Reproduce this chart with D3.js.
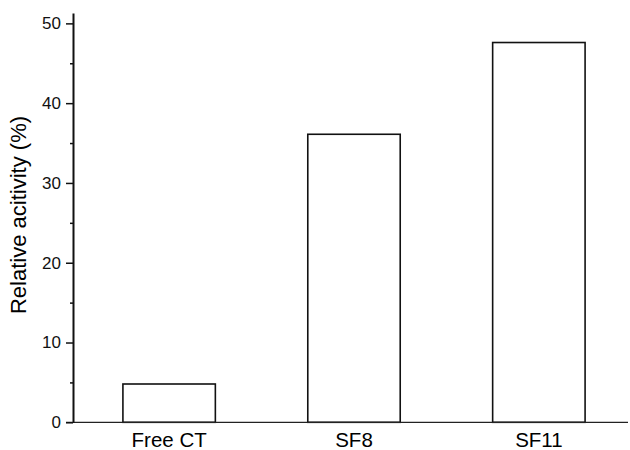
<!DOCTYPE html>
<html lang="en">
<head>
<meta charset="UTF-8">
<title>Relative activity</title>
<script src="https://cdn.jsdelivr.net/npm/d3@7"></script>
<style>
    body { margin: 0; background: #fff; }
    svg { display: block; font-family: "Liberation Sans", Arial, sans-serif; }
</style>
</head>
<body>
<script>
    // DATA
    const categories = ["Free CT", "SF8", "SF11"]
    const activity = [4.8, 36.1, 47.6]
    const yTicks = [0, 10, 20, 30, 40, 50]
    const yMinorTicks = [5, 15, 25, 35, 45]

    const width = 630, height = 450

    let svg = d3.select("body").append("svg")
        .attr("width", width)
        .attr("height", height)

    // SCALES
    let x_scale = d3.scaleBand()
        .domain(categories)
        .range([73, 635])
        .paddingInner(0.5)
        .paddingOuter(0.27)

    let y_scale = d3.scaleLinear()
        .domain([0, 51.3])
        .range([422.3, 13])

    // BARS
    svg.append("g").selectAll("rect")
        .data(categories)
        .join("rect")
        .attr("x", d => x_scale(d))
        .attr("width", x_scale.bandwidth())
        .attr("y", (d, i) => y_scale(activity[i]))
        .attr("height", (d, i) => y_scale(0) - y_scale(activity[i]))
        .style("fill", "white")
        .style("stroke", "#111")
        .style("stroke-width", "1.6px")

    // X AXIS (line + labels, no ticks)
    svg.append("line")
        .attr("x1", 66).attr("x2", 628)
        .attr("y1", y_scale(0)).attr("y2", y_scale(0))
        .style("stroke", "#222")
        .style("stroke-width", "1.3px")

    svg.append("g").selectAll("text")
        .data(categories)
        .join("text")
        .attr("x", d => x_scale(d) + x_scale.bandwidth() / 2)
        .attr("y", 447)
        .attr("text-anchor", "middle")
        .style("font-size", "20.5px")
        .text(d => d)

    // Y AXIS
    const y_axis = d3.axisLeft(y_scale)
        .tickValues(yTicks)
        .tickSize(7)
        .tickPadding(5)
        .tickSizeOuter(0)

    let yg = svg.append("g")
        .attr("transform", "translate(73,0)")
        .call(y_axis)
    yg.selectAll("text").style("font-size", "17px").style("fill", "#111")
    yg.selectAll("line").style("stroke", "#111").style("stroke-width", "1.5px")
    yg.select(".domain").style("stroke", "#111").style("stroke-width", "2px")

    const y_minor = d3.axisLeft(y_scale)
        .tickValues(yMinorTicks)
        .tickSize(3)
        .tickFormat("")
        .tickSizeOuter(0)
    let ym = svg.append("g")
        .attr("transform", "translate(73,0)")
        .call(y_minor)
    ym.select(".domain").remove()
    ym.selectAll("line").style("stroke", "#111").style("stroke-width", "1.5px")

    // Y TITLE
    svg.append("text")
        .attr("transform", "translate(26,215) rotate(-90)")
        .attr("text-anchor", "middle")
        .style("font-size", "22px")
        .text("Relative acitivity (%)")
</script>
</body>
</html>
